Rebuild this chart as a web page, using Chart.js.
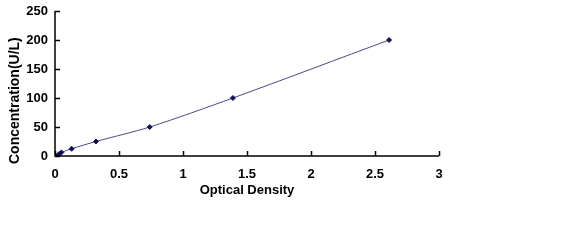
<!DOCTYPE html>
<html>
<head>
<meta charset="utf-8">
<script src="https://cdn.jsdelivr.net/npm/chart.js@4/dist/chart.umd.min.js"></script>
<style>
html,body{margin:0;padding:0;background:#fff;}
#wrap{width:585px;height:241px;}
</style>
</head>
<body>
<div id="wrap"><canvas id="c" width="585" height="241"></canvas></div>
<script>
const opticalDensity = [0.02, 0.03, 0.05, 0.13, 0.32, 0.74, 1.39, 2.61];
const concentration = [0, 3.12, 6.25, 12.5, 25, 50, 100, 200];
const xTicks = [0, 0.5, 1, 1.5, 2, 2.5, 3];
const yTicks = [0, 50, 100, 150, 200, 250];
const xTitle = 'Optical Density';
const yTitle = 'Concentration(U/L)';

const FONT = '"Liberation Sans", Arial, sans-serif';

const innerTicks = {
  id: 'innerTicks',
  afterDraw(chart) {
    const ctx = chart.ctx;
    const xs = chart.scales.x, ys = chart.scales.y;
    const area = chart.chartArea;
    ctx.save();
    ctx.strokeStyle = '#000';
    ctx.lineWidth = 1.5;
    ctx.beginPath();
    ctx.moveTo(area.left, area.top);
    ctx.lineTo(area.left, area.bottom);
    ctx.lineTo(area.right, area.bottom);
    xTicks.forEach(v => {
      const px = Math.round(xs.getPixelForValue(v)) + 0.5;
      ctx.moveTo(px, area.bottom);
      ctx.lineTo(px, area.bottom - 5);
    });
    yTicks.forEach(v => {
      const py = Math.round(ys.getPixelForValue(v)) + 0.5;
      ctx.moveTo(area.left, py);
      ctx.lineTo(area.left + 5, py);
    });
    ctx.stroke();
    ctx.fillStyle = '#000';
    ctx.font = 'bold 14px ' + FONT;
    ctx.translate(19, ys.getPixelForValue(0) + 8);
    ctx.rotate(-Math.PI / 2);
    ctx.textAlign = 'left';
    ctx.textBaseline = 'alphabetic';
    ctx.fillText(yTitle, 0, 0);
    ctx.restore();
  }
};

new Chart(document.getElementById('c'), {
  type: 'scatter',
  data: {
    datasets: [{
      data: opticalDensity.map((x, i) => ({x: x, y: concentration[i]})),
      showLine: true,
      borderColor: '#4a4a80',
      borderWidth: 1,
      backgroundColor: '#10105a',
      pointBackgroundColor: '#10105a',
      pointBorderColor: '#10105a',
      pointStyle: 'rectRot',
      pointRadius: 2.5,
      tension: 0.3
    }]
  },
  options: {
    responsive: false,
    animation: false,
    devicePixelRatio: 1,
    plugins: {legend: {display: false}, tooltip: {enabled: false}},
    layout: {padding: {left: 0, right: 146, top: 11, bottom: 43}},
    scales: {
      x: {
        type: 'linear', min: 0, max: 3,
        afterBuildTicks: s => { s.ticks = xTicks.map(v => ({value: v})); },
        afterFit: s => { s.height = 42; s.paddingLeft = 0; s.paddingRight = 0; },
        grid: {display: false, drawTicks: false},
        border: {display: false},
        ticks: {color: '#000', font: {family: FONT, size: 13, weight: 'bold'}, padding: 11, maxRotation: 0,
                callback: v => String(v)},
        title: {display: true, text: xTitle, color: '#000', font: {family: FONT, size: 13, weight: 'bold'}, padding: {top: 2, bottom: 0}}
      },
      y: {
        type: 'linear', min: 0, max: 250,
        afterBuildTicks: s => { s.ticks = yTicks.map(v => ({value: v})); },
        afterFit: s => { s.width = 55; s.paddingTop = 0; s.paddingBottom = 0; },
        grid: {display: false, drawTicks: false},
        border: {display: false},
        ticks: {color: '#000', font: {family: FONT, size: 13, weight: 'bold'}, padding: 7,
                callback: v => String(v)}
      }
    }
  },
  plugins: [innerTicks]
});
</script>
</body>
</html>
